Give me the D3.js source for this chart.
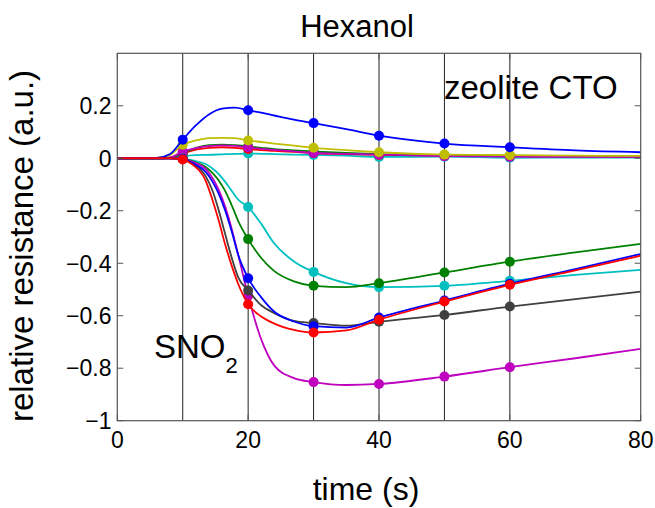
<!DOCTYPE html>
<meta charset="utf-8">
<style>
  body { margin: 0; background: #fff; }
  text { font-family: "Liberation Sans", Arial, sans-serif; fill: #000; }
  .box { fill: none; stroke: #555; stroke-width: 1.2px; }
  .vline { stroke: #222; stroke-width: 1px; }
  .tick { stroke: #555; stroke-width: 1px; }
</style>
<body>
<svg width="655" height="508"></svg>
<script src="https://d3js.org/d3.v7.min.js"></script>
<script>
// sample times (s) ---------------------------------------------------------
var tZeo = [0, 6, 8, 10, 12, 14, 16, 18, 20, 22, 24, 27, 30, 35, 40, 50, 60, 70, 80];
var tSno = [0, 8, 10, 11.5, 13.5, 14.5, 15.5, 16.5, 17.5, 18.5, 20, 22, 24, 27, 30, 35, 40, 50, 60, 70, 80];
var markerTimes = [10, 20, 30, 40, 50, 60];

// zeolite CTO sensors ------------------------------------------------------
var zeoBlue    = [0, 0.001, 0.015, 0.071, 0.125, 0.167, 0.189, 0.193, 0.183, 0.174, 0.163, 0.147, 0.134, 0.111, 0.086, 0.056, 0.042, 0.030, 0.023];
var zeoGreen   = [0, 0, 0.002, 0.020, 0.040, 0.050, 0.052, 0.050, 0.045, 0.040, 0.035, 0.030, 0.026, 0.020, 0.016, 0.012, 0.010, 0.008, 0.007];
var zeoRed     = [0, 0, 0.002, 0.018, 0.033, 0.040, 0.042, 0.040, 0.035, 0.031, 0.028, 0.024, 0.020, 0.016, 0.013, 0.010, 0.008, 0.007, 0.006];
var zeoCyan    = [0, 0, 0.001, 0.008, 0.012, 0.013, 0.015, 0.017, 0.018, 0.017, 0.016, 0.014, 0.013, 0.010, 0.005, 0.006, 0.002, 0.003, 0.003];
var zeoMagenta = [0, 0, 0.003, 0.026, 0.039, 0.046, 0.049, 0.047, 0.041, 0.036, 0.032, 0.026, 0.020, 0.017, 0.014, 0.008, 0.006, 0.005, 0.005];
var zeoYellow  = [0, 0.001, 0.012, 0.052, 0.068, 0.077, 0.078, 0.077, 0.068, 0.062, 0.056, 0.048, 0.040, 0.031, 0.023, 0.014, 0.012, 0.010, 0.009];

// SnO2 sensors --------------------------------------------------------------
var snoBlue    = [0, 0, -0.003, -0.018, -0.052, -0.087, -0.135, -0.200, -0.280, -0.370, -0.457, -0.530, -0.585, -0.622, -0.640, -0.645, -0.607, -0.542, -0.478, -0.422, -0.365];
var snoGreen   = [0, 0, -0.002, -0.012, -0.033, -0.055, -0.085, -0.125, -0.180, -0.240, -0.308, -0.380, -0.430, -0.469, -0.486, -0.491, -0.476, -0.435, -0.394, -0.359, -0.326];
var snoRed     = [0, 0, -0.005, -0.024, -0.085, -0.155, -0.237, -0.330, -0.410, -0.480, -0.556, -0.603, -0.630, -0.654, -0.664, -0.656, -0.615, -0.546, -0.482, -0.427, -0.371];
var snoCyan    = [0, 0, -0.001, -0.008, -0.022, -0.038, -0.060, -0.090, -0.125, -0.158, -0.186, -0.250, -0.325, -0.393, -0.433, -0.476, -0.491, -0.486, -0.467, -0.444, -0.425];
var snoMagenta = [0, 0, -0.002, -0.014, -0.040, -0.073, -0.120, -0.185, -0.270, -0.370, -0.524, -0.690, -0.790, -0.838, -0.853, -0.864, -0.860, -0.832, -0.796, -0.762, -0.726];
var snoBlack   = [0, 0, -0.003, -0.020, -0.068, -0.120, -0.198, -0.290, -0.380, -0.455, -0.504, -0.560, -0.590, -0.620, -0.628, -0.638, -0.623, -0.597, -0.565, -0.537, -0.508];

var xTicks = [0, 20, 40, 60, 80];
var yTicks = [-1, -0.8, -0.6, -0.4, -0.2, 0, 0.2];

var series = [
  { t: tZeo, v: zeoCyan,    c: "#00bfbf" },
  { t: tZeo, v: zeoRed,     c: "#ff0000" },
  { t: tZeo, v: zeoGreen,   c: "#008000" },
  { t: tZeo, v: zeoMagenta, c: "#bf00bf" },
  { t: tZeo, v: zeoYellow,  c: "#bfbf00" },
  { t: tZeo, v: zeoBlue,    c: "#0000ff" },
  { t: tSno, v: snoCyan,    c: "#00bfbf" },
  { t: tSno, v: snoGreen,   c: "#008000" },
  { t: tSno, v: snoMagenta, c: "#bf00bf" },
  { t: tSno, v: snoBlack,   c: "#404040" },
  { t: tSno, v: snoBlue,    c: "#0000ff" },
  { t: tSno, v: snoRed,     c: "#ff0000" }
];

// layout -----------------------------------------------------------------
var svg = d3.select("svg");
var L = 117.3, R = 640.7, T = 53.3, B = 420.7;
var x = d3.scaleLinear().domain([0, 80]).range([L, R]);
var y = d3.scaleLinear().domain([-1, 0.4]).range([B, T]);

// vertical markers at every 10 s
svg.append("g").selectAll("line")
  .data(markerTimes)
  .enter().append("line")
  .attr("class", "vline")
  .attr("x1", d => x(d)).attr("x2", d => x(d))
  .attr("y1", T).attr("y2", B);

var line = d3.line()
  .x(d => x(d[0]))
  .y(d => y(d[1]))
  .curve(d3.curveMonotoneX);

series.forEach(function(s) {
  var pts = s.t.map((t, i) => [t, s.v[i]]);
  svg.append("path")
    .datum(pts)
    .attr("d", line)
    .attr("fill", "none")
    .attr("stroke", s.c)
    .attr("stroke-width", 1.8);
  svg.append("g").selectAll("circle")
    .data(pts.filter(p => markerTimes.indexOf(p[0]) >= 0))
    .enter().append("circle")
    .attr("cx", d => x(d[0]))
    .attr("cy", d => y(d[1]))
    .attr("r", 5)
    .attr("fill", s.c);
});

// axes box and ticks -----------------------------------------------------
svg.append("rect").attr("class", "box")
  .attr("x", L).attr("y", T).attr("width", R - L).attr("height", B - T);

var tl = 6;
yTicks.forEach(function(v) {
  svg.append("line").attr("class", "tick")
    .attr("x1", L).attr("x2", L + tl).attr("y1", y(v)).attr("y2", y(v));
  svg.append("line").attr("class", "tick")
    .attr("x1", R).attr("x2", R - tl).attr("y1", y(v)).attr("y2", y(v));
  svg.append("text")
    .attr("x", 111.5).attr("y", y(v))
    .attr("dy", "0.36em")
    .attr("text-anchor", "end")
    .style("font-size", "23px")
    .text(v === 0 ? "0" : d3.format("")(v).replace("-", "\u2212"));
});
xTicks.forEach(function(v) {
  svg.append("line").attr("class", "tick")
    .attr("x1", x(v)).attr("x2", x(v)).attr("y1", B).attr("y2", B - tl);
  svg.append("line").attr("class", "tick")
    .attr("x1", x(v)).attr("x2", x(v)).attr("y1", T).attr("y2", T + tl);
  svg.append("text")
    .attr("x", x(v)).attr("y", 448)
    .attr("text-anchor", "middle")
    .style("font-size", "23px")
    .text(v);
});

// labels -----------------------------------------------------------------
svg.append("text")
  .attr("x", 357).attr("y", 36.7)
  .attr("text-anchor", "middle")
  .style("font-size", "31px")
  .text("Hexanol");

svg.append("text")
  .attr("x", 366).attr("y", 500)
  .attr("text-anchor", "middle")
  .style("font-size", "32px")
  .text("time (s)");

svg.append("text")
  .attr("transform", "translate(33,246) rotate(-90)")
  .attr("text-anchor", "middle")
  .style("font-size", "33px")
  .text("relative resistance (a.u.)");

svg.append("text")
  .attr("x", 444).attr("y", 99.3)
  .style("font-size", "33px")
  .text("zeolite CTO");

var sno = svg.append("text")
  .attr("x", 154).attr("y", 358.3)
  .style("font-size", "33px");
sno.append("tspan").text("SNO");
sno.append("tspan").attr("dy", 15).style("font-size", "22px").text("2");
</script>
</body>
